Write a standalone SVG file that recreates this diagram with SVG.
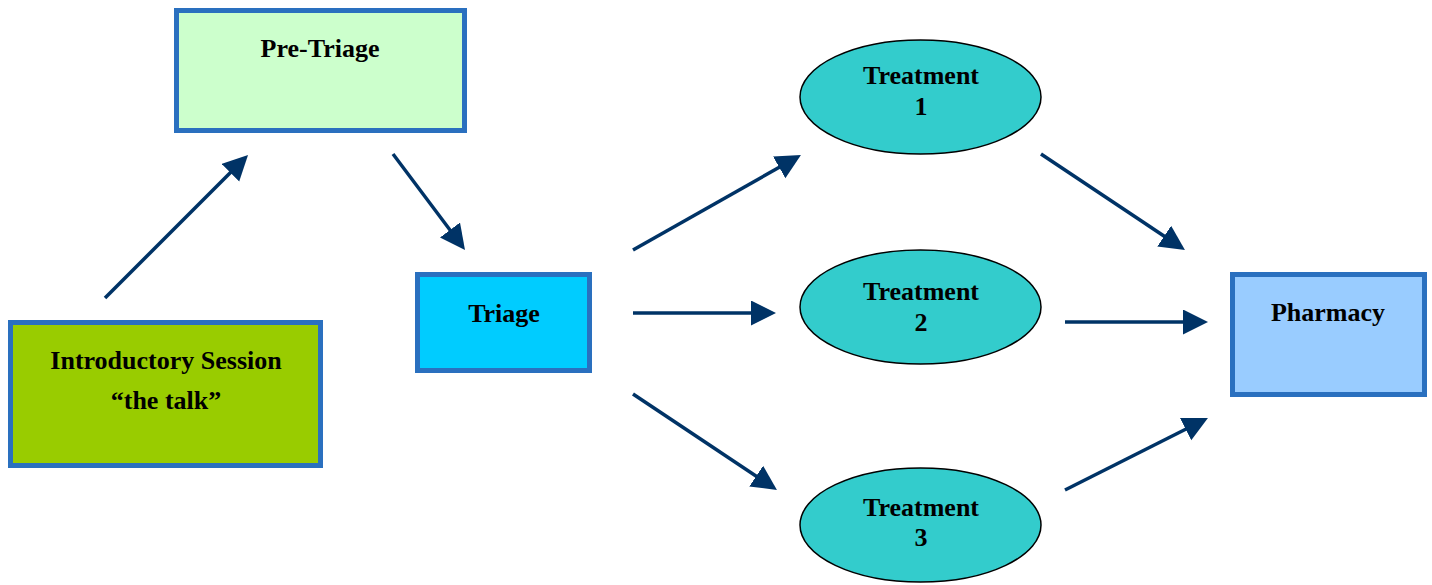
<svg xmlns="http://www.w3.org/2000/svg" width="1432" height="585" viewBox="0 0 1432 585">
<style>
.box{stroke:#2a70bf;stroke-width:5}
.ell{fill:#33cccc;stroke:#000;stroke-width:1.5}
.t{font-family:"Liberation Serif","Times New Roman",serif;font-weight:bold;font-size:26px;fill:#000;text-anchor:middle}
.c{stroke:#003366;stroke-width:3.5;fill:none}
</style>
<defs>
<marker id="ah" markerUnits="userSpaceOnUse" markerWidth="26" markerHeight="26" refX="20" refY="12.5" orient="auto">
<path d="M0,0 L25,12.5 L0,25 z" fill="#003366"/>
</marker>
</defs>
<rect width="1432" height="585" fill="#fff"/>
<g id="pre-triage">
<rect class="box" x="176.5" y="10.5" width="288" height="120" fill="#ccffcc"/>
<text class="t" x="320" y="57">Pre-Triage</text>
</g>
<g id="intro">
<rect class="box" x="10.5" y="322.5" width="310" height="143" fill="#99cc00"/>
<text class="t" x="166" y="369">Introductory Session</text>
<text class="t" x="166" y="409">“the talk”</text>
</g>
<g id="triage">
<rect class="box" x="417.5" y="274.5" width="172" height="96" fill="#00ccff"/>
<text class="t" x="504" y="322">Triage</text>
</g>
<g id="treatment1">
<ellipse class="ell" cx="920.5" cy="97" rx="120.5" ry="57"/>
<text class="t" x="921" y="84">Treatment</text>
<text class="t" x="921" y="115">1</text>
</g>
<g id="treatment2">
<ellipse class="ell" cx="920.5" cy="307" rx="120.5" ry="57"/>
<text class="t" x="921" y="300">Treatment</text>
<text class="t" x="921" y="331">2</text>
</g>
<g id="treatment3">
<ellipse class="ell" cx="920.5" cy="525" rx="120.5" ry="57"/>
<text class="t" x="921" y="516">Treatment</text>
<text class="t" x="921" y="546">3</text>
</g>
<g id="pharmacy">
<rect class="box" x="1232.5" y="274.5" width="192" height="120" fill="#99ccff"/>
<text class="t" x="1328" y="321">Pharmacy</text>
</g>
<g id="connectors">
<line class="c" x1="105" y1="298" x2="244.5" y2="158.5" marker-end="url(#ah)"/>
<line class="c" x1="393" y1="154" x2="462" y2="246" marker-end="url(#ah)"/>
<line class="c" x1="633" y1="250" x2="796.6" y2="157.5" marker-end="url(#ah)"/>
<line class="c" x1="633" y1="313" x2="771" y2="313" marker-end="url(#ah)"/>
<line class="c" x1="633" y1="394" x2="772.8" y2="487.2" marker-end="url(#ah)"/>
<line class="c" x1="1041" y1="154" x2="1180.8" y2="247.2" marker-end="url(#ah)"/>
<line class="c" x1="1065" y1="322" x2="1203" y2="322" marker-end="url(#ah)"/>
<line class="c" x1="1065" y1="490" x2="1203.5" y2="420.2" marker-end="url(#ah)"/>
</g>
</svg>
